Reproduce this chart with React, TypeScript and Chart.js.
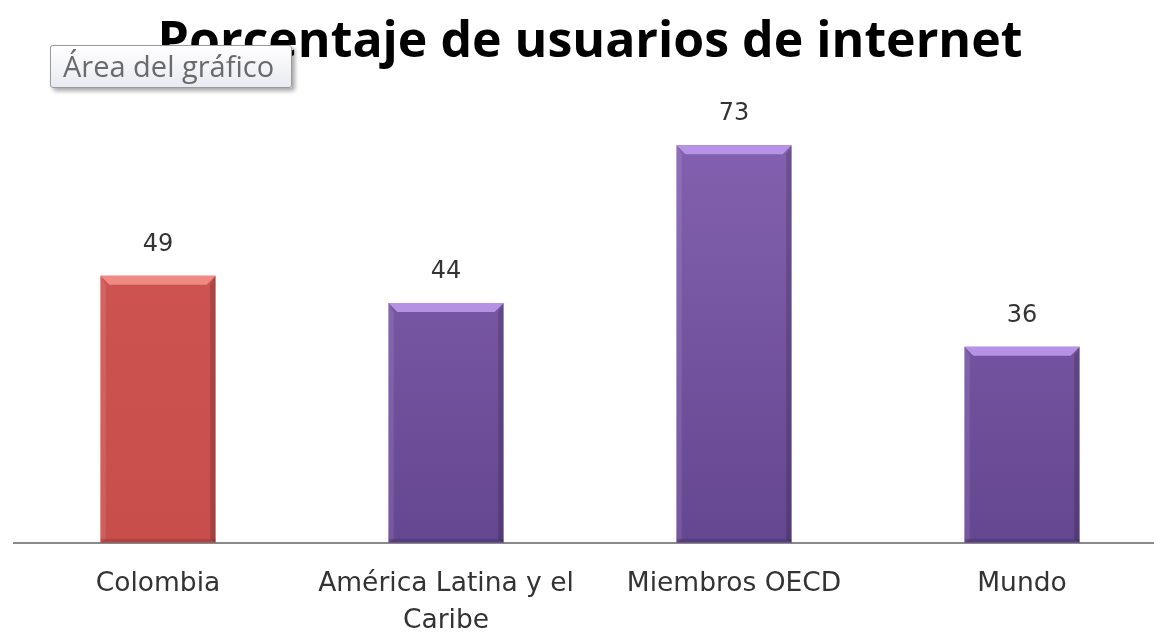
import React, { useEffect, useRef } from "react";
import { Chart, registerables } from "chart.js";

Chart.register(...registerables);

const categories: (string | string[])[] = ["Colombia", ["América Latina y el", "Caribe"], "Miembros OECD", "Mundo"];
const values: number[] = [49, 44, 73, 36];
const barTopColors: string[] = ["#cf5753", "#8563b2", "#8563b2", "#8563b2"];
const barBottomColors: string[] = ["#c74e4b", "#654690", "#654690", "#654690"];
const bevelColors: string[] = ["rgba(240,140,132,0.95)", "rgba(185,150,232,0.95)", "rgba(185,150,232,0.95)", "rgba(185,150,232,0.95)"];
const chartTitle = "Porcentaje de usuarios de internet";
const tooltipText = "Área del gráfico";

const bevelPlugin = {
  id: "bevelAndLabels",
  afterDatasetsDraw(chart: any) {
    const meta = chart.getDatasetMeta(0);
    const ctx: CanvasRenderingContext2D = chart.ctx;
    meta.data.forEach((bar: any, i: number) => {
      const { x, y, width, base } = bar.getProps(["x", "y", "width", "base"], true);
      const l = x - width / 2;
      const r = x + width / 2;
      const b = 9;
      ctx.save();
      ctx.fillStyle = bevelColors[i];
      ctx.beginPath();
      ctx.moveTo(l, y);
      ctx.lineTo(r, y);
      ctx.lineTo(r - b, y + b);
      ctx.lineTo(l + b, y + b);
      ctx.closePath();
      ctx.fill();
      ctx.fillStyle = "rgba(255,255,255,0.10)";
      ctx.beginPath();
      ctx.moveTo(l, y);
      ctx.lineTo(l + b * 0.6, y + b);
      ctx.lineTo(l + b * 0.6, base - 4);
      ctx.lineTo(l, base);
      ctx.closePath();
      ctx.fill();
      ctx.fillStyle = "rgba(0,0,0,0.16)";
      ctx.beginPath();
      ctx.moveTo(r, y);
      ctx.lineTo(r - b * 0.6, y + b);
      ctx.lineTo(r - b * 0.6, base - 4);
      ctx.lineTo(r, base);
      ctx.closePath();
      ctx.fill();
      ctx.fillStyle = "rgba(0,0,0,0.12)";
      ctx.fillRect(l, base - 4, width, 4);
      ctx.fillStyle = "#333333";
      ctx.font = "24px 'DejaVu Sans', sans-serif";
      ctx.textAlign = "center";
      ctx.textBaseline = "middle";
      ctx.fillText(String(values[i]), x, y - 31);
      ctx.restore();
    });
  },
};

export default function App() {
  const canvasRef = useRef<HTMLCanvasElement | null>(null);

  useEffect(() => {
    if (!canvasRef.current) return;
    const chart = new Chart(canvasRef.current, {
      type: "bar",
      data: {
        labels: categories as any,
        datasets: [
          {
            data: values,
            backgroundColor: (c: any) => {
              const area = c.chart.chartArea;
              const i = c.dataIndex;
              if (!area) return barTopColors[i];
              const g = c.chart.ctx.createLinearGradient(0, area.top, 0, area.bottom);
              g.addColorStop(0, barTopColors[i]);
              g.addColorStop(1, barBottomColors[i]);
              return g;
            },
            borderWidth: 0,
            barPercentage: 0.4,
            categoryPercentage: 1.0,
          },
        ],
      },
      options: {
        animation: false,
        responsive: true,
        maintainAspectRatio: false,
        layout: { padding: { left: 14, right: 14, top: 0, bottom: 0 } },
        plugins: {
          legend: { display: false },
          tooltip: { enabled: false },
          title: {
            display: true,
            text: chartTitle,
            color: "#000000",
            font: { family: "'Open Sans', Lato, sans-serif", size: 50, weight: "bold" },
            padding: { top: 13, bottom: 34 },
          },
        },
        scales: {
          y: { display: false, min: 0, max: 80 },
          x: {
            grid: { display: false, drawTicks: false },
            border: { display: true, color: "#8a8a8a", width: 2 },
            ticks: {
              color: "#333333",
              padding: 23,
              maxRotation: 0,
              autoSkip: false,
              font: { family: "'DejaVu Sans', sans-serif", size: 26.5, lineHeight: 1.4 },
            },
          },
        },
      },
      plugins: [bevelPlugin],
    });
    return () => chart.destroy();
  }, []);

  return (
    <div style={{ position: "fixed", left: 0, top: 0, width: 1154, height: 633, overflow: "hidden", background: "#ffffff" }}>
      <div style={{ position: "absolute", left: 0, top: 0, width: 1180, height: 663 }}>
        <canvas ref={canvasRef} />
      </div>
      <div
        style={{
          position: "absolute",
          left: 50,
          top: 45,
          width: 242,
          height: 43,
          boxSizing: "border-box",
          border: "1px solid #9a9a9a",
          borderRadius: 3,
          background: "linear-gradient(#ffffff, #e9eaf2)",
          boxShadow: "3px 3px 4px rgba(0,0,0,0.35)",
          color: "#6a6a6a",
          fontFamily: "'Open Sans', 'Noto Sans', sans-serif",
          fontSize: 29,
          lineHeight: "40px",
          paddingLeft: 12,
          whiteSpace: "nowrap",
          overflow: "hidden",
        }}
      >
        {tooltipText}
      </div>
    </div>
  );
}
